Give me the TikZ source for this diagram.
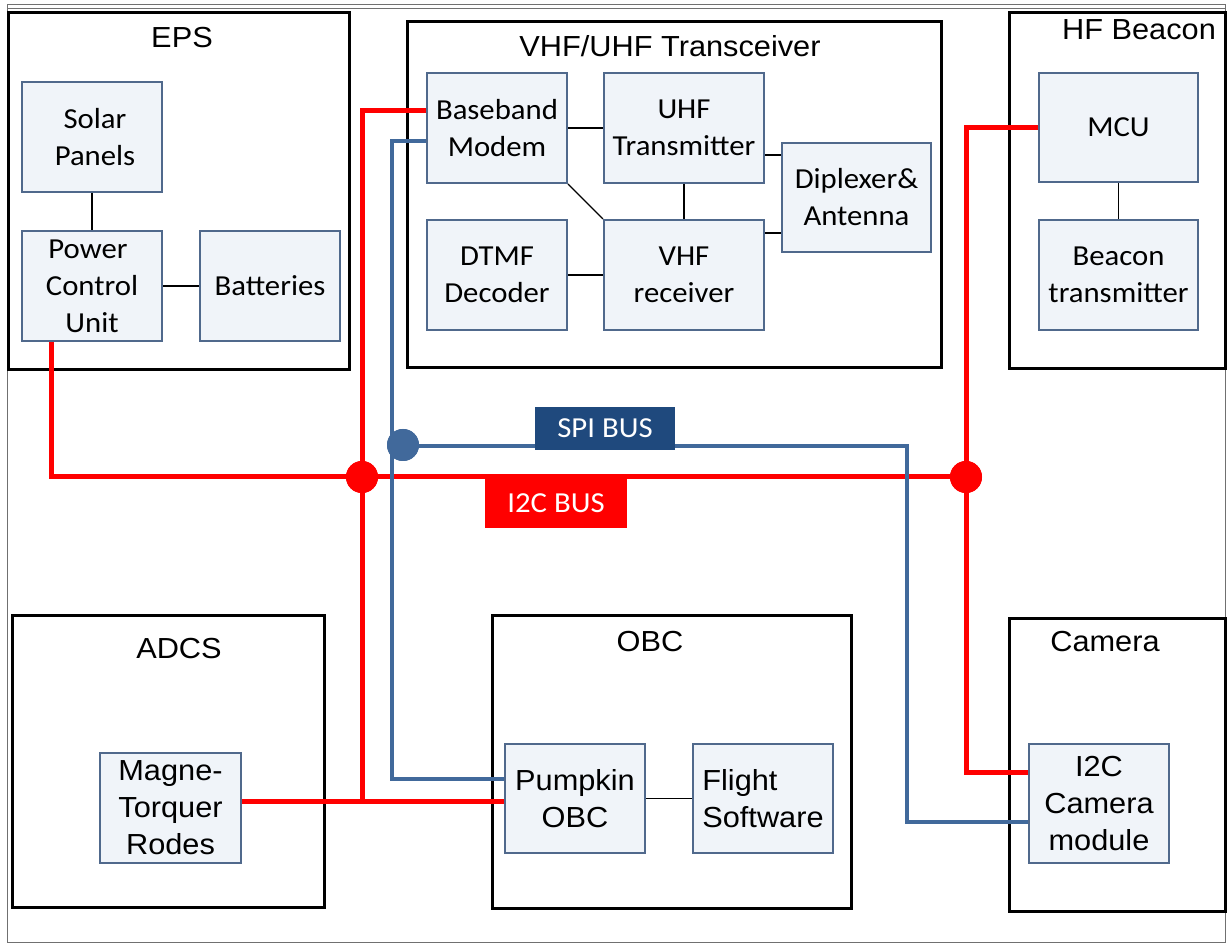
\documentclass[tikz,border=0pt]{standalone}
\usepackage{fontspec}
\newfontfamily\calfont[FakeStretch=1.06]{Carlito}
\newfontfamily\arifont[FakeStretch=1.06]{Liberation Sans}
\usetikzlibrary{calc}
\definecolor{innerborder}{HTML}{50698C}
\definecolor{innerfill}{HTML}{F0F4F9}
\definecolor{spiblue}{HTML}{41699B}
\definecolor{spidark}{HTML}{1F497D}
\definecolor{busred}{HTML}{FF0000}
\definecolor{framegray}{HTML}{707070}
\begin{document}
\begin{tikzpicture}[x=0.5pt,y=-0.5pt,
  outer/.style={draw=black, line width=1.5pt, inner sep=0pt},
  inner/.style={draw=innerborder, fill=innerfill, line width=1pt, inner sep=0pt, align=center,
    font=\calfont\fontsize{14.5}{18.5}\selectfont},
  ar/.style={font=\arifont\fontsize{14.5}{18.5}\selectfont},
  title/.style={anchor=base, inner sep=0pt, font=\arifont\fontsize{14.5}{17}\selectfont},
  link/.style={draw=black, line width=0.6pt},
  i2c/.style={draw=busred, line width=2.5pt},
  spi/.style={draw=spiblue, line width=2pt},
  reddot/.style={circle, fill=busred, minimum size=16pt, inner sep=0pt},
  bluedot/.style={circle, fill=spiblue, minimum size=16pt, inner sep=0pt},
  buslabel/.style={text=white, inner sep=0pt, font=\calfont\fontsize{14.5}{17}\selectfont}
]
\useasboundingbox (0,0) rectangle (1227,945);
% outer frame
\draw[framegray, line width=0.5pt] (7,5) rectangle (1225,943);
\draw[framegray, line width=0.5pt] (7,9) -- (1225,9);

% subsystem boxes
\node[outer, minimum width=170.5pt, minimum height=178.5pt] (eps) at (178.5,191.5) {};
\node[outer, minimum width=267pt, minimum height=173pt] (vhfuhf) at (674,195) {};
\node[outer, minimum width=108pt, minimum height=178pt] (hfb) at (1117,191) {};
\node[outer, minimum width=156pt, minimum height=146pt] (adcs) at (168,762) {};
\node[outer, minimum width=179.5pt, minimum height=146.5pt] (obc) at (671.5,762.5) {};
\node[outer, minimum width=108pt, minimum height=146.5pt] (camera) at (1117,765.5) {};

% titles
\node[title] (epsT) at (182,48) {EPS};
\node[title] (vhfT) at (670,57) {VHF/UHF Transceiver};
\node[title] (hfT) at (1139,40) {HF Beacon};
\node[title] (adcsT) at (179,659) {ADCS};
\node[title] (obcT) at (650,652) {OBC};
\node[title] (camT) at (1105,652) {Camera};

% inner blocks
\node[inner, minimum width=70pt, minimum height=55pt] (sp) at (92,137) {\hspace*{3pt}Solar\\\hspace*{3pt}Panels};
\node[inner, minimum width=70pt, minimum height=55pt] (pcu) at (92,286) {Power\hspace*{4pt}\\Control\hspace*{8pt}\\Unit\hspace*{0pt}};
\node[inner, minimum width=70pt, minimum height=55pt] (bat) at (270,286) {Batteries};
\node[inner, minimum width=70pt, minimum height=55pt] (bb) at (497,128) {Baseband\\Modem};
\node[inner, minimum width=80pt, minimum height=55pt] (uhf) at (684,128) {UHF\\Transmitter};
\node[inner, minimum width=74.5pt, minimum height=54.5pt] (dip) at (856.5,197.5) {Diplexer\&\\Antenna};
\node[inner, minimum width=70pt, minimum height=55pt] (dtmf) at (497,275) {DTMF\\Decoder};
\node[inner, minimum width=80pt, minimum height=55pt] (vhf) at (684,275) {VHF\\receiver};
\node[inner, minimum width=79.5pt, minimum height=54.5pt] (mcu) at (1118.5,127.5) {MCU};
\node[inner, minimum width=79.5pt, minimum height=55pt] (bt) at (1118.5,275) {Beacon\\transmitter};
\node[inner, ar, minimum width=70.5pt, minimum height=55pt] (mt) at (170.5,808) {Magne-\\Torquer\\Rodes};
\node[inner, ar, minimum width=70pt, minimum height=54.5pt] (pk) at (575,798.5) {Pumpkin\\OBC};
\node[inner, ar, align=left, minimum width=70pt, minimum height=54.5pt] (fs) at (763,798.5) {Flight\\Software};
\node[inner, ar, minimum width=70pt, minimum height=59.5pt] (cam) at (1099,803.5) {I2C\\Camera\\module};

% internal links
\draw[link] (sp.south) -- (pcu.north);
\draw[link] (pcu.east) -- (bat.west);
\draw[link] (bb.east) -- (uhf.west);
\draw[link] (bb.south east) -- (vhf.north west);
\draw[link] (uhf.south) -- (vhf.north);
\coordinate (u1) at ([yshift=-13.5pt]uhf.east);
\draw[link] (u1) -- (u1 -| dip.west);
\coordinate (v1) at ([yshift=21pt]vhf.east);
\draw[link] (v1) -- (v1 -| dip.west);
\draw[link] (dtmf.east) -- (vhf.west);
\draw[link] (mcu.south) -- (bt.north);
\draw[link] (pk.east) -- (fs.west);

% I2C bus
\node[reddot] (dl) at (362,477) {};
\node[reddot] (dr) at (966,477) {};
\coordinate (p0) at ([xshift=-20.5pt]pcu.south);
\coordinate (b0) at ([yshift=8.5pt]bb.west);
\coordinate (m0) at ([yshift=3pt]mt.east);
\coordinate (c0) at ([yshift=15.25pt]cam.west);
\draw[i2c] (p0) |- (dr.center);
\draw[i2c] (b0) -| (dl.center) -- (dl.center |- m0);
\draw[i2c] (m0) -- (m0 -| pk.west);
\draw[i2c] (mcu.west) -| (dr.center) |- (c0);
\node[reddot] at (dl) {};
\node[reddot] at (dr) {};

% SPI bus
\coordinate (spiX) at (392,0);
\coordinate (b1) at ([yshift=-6.5pt]bb.west);
\coordinate (p1) at ([yshift=9.75pt]pk.west);
\coordinate (c1) at ([yshift=-9.25pt]cam.west);
\node[bluedot] (sdot) at (403,445) {};
\coordinate (sx) at (907,446);
\draw[spi] (b1) -| (spiX |- p1) -- (p1);
\draw[spi] (sdot.center |- sx) -- (sx) |- (c1);
\node[bluedot] at (sdot) {};

% bus labels
\node[buslabel, fill=spidark, minimum width=70pt, minimum height=21.5pt] (spiL) at (605,428.5) {SPI BUS};
\node[buslabel, fill=busred, minimum width=71pt, minimum height=24.5pt] (i2cL) at (556,503.5) {I2C BUS};
\end{tikzpicture}
\end{document}
